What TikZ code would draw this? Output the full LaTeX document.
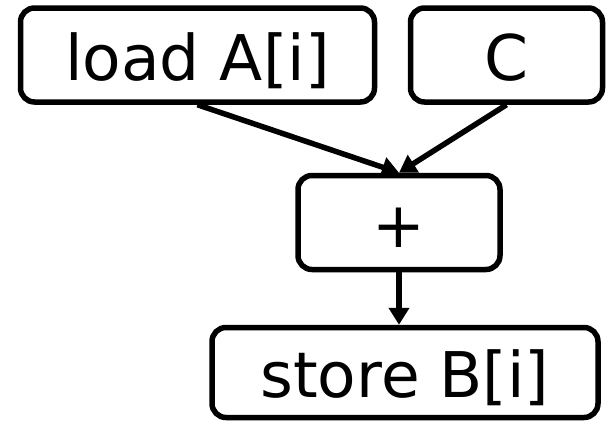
\documentclass[tikz,border=0pt]{standalone}
\usepackage{fontspec}
\setmainfont{DejaVu Sans}
\usetikzlibrary{arrows.meta}
\tikzset{
  opbox/.style={draw=black, line width=5.5pt, rounded corners=14pt, inner sep=0pt,
    font=\fontsize{63}{70}\selectfont, text height=50pt, text depth=0pt},
  flow/.style={line width=5.5pt, -{Triangle[length=17pt,width=20pt]}}
}
\begin{document}
\begin{tikzpicture}[x=1pt,y=-1pt]
  \useasboundingbox (0,0) rectangle (606,421);
  % operation boxes
  \node[opbox, minimum width=354pt, minimum height=94pt] (load)  at (197.5,55) {load A[i]};
  \node[opbox, minimum width=192pt, minimum height=94pt] (const) at (506.5,55) {C};
  \node[opbox, minimum width=202pt, minimum height=94pt] (plus)  at (399,222.5) {+};
  \node[opbox, minimum width=386pt, minimum height=90pt] (store) at (405,372.5) {store B[i]};
  % data flow
  \draw[flow] (load.south)  -- (plus.north);
  \draw[flow] (const.south) -- (plus.north);
  \draw[flow] (plus.south)  -- (plus.south |- store.north);
\end{tikzpicture}
\end{document}
